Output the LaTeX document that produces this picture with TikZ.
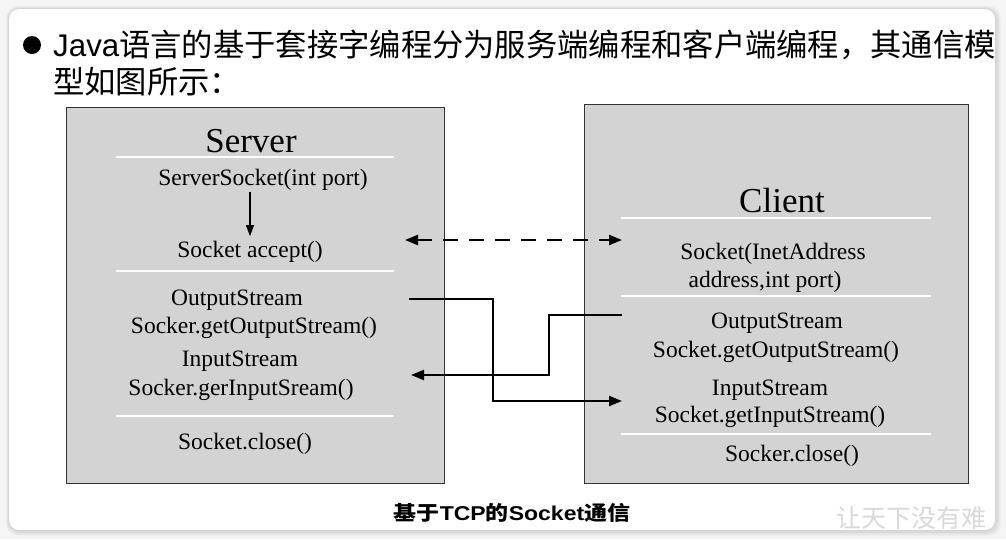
\documentclass[tikz,border=0pt]{standalone}
\usepackage{fontspec}
\setmainfont{Liberation Serif}
\newfontfamily\cjk{Noto Sans CJK SC}
\newfontfamily\arial{Liberation Sans}
\usetikzlibrary{arrows.meta}
\definecolor{boxgray}{HTML}{D3D3D3}
\definecolor{edgegray}{HTML}{333333}
\begin{document}
\begin{tikzpicture}[x=1pt,y=-1pt,
  panelbox/.style={draw=edgegray, line width=1.3pt, fill=boxgray, anchor=north west, inner sep=0pt},
  sep/.style={draw=white, line width=1.2pt},
  lbl/.style={font=\fontsize{23.5}{25}\selectfont, inner sep=0pt, yshift=-2pt},
  ttl/.style={font=\fontsize{35}{38}\selectfont, inner sep=0pt, yshift=-1pt},
  conn/.style={line width=2.2pt, -{Triangle[length=13pt,width=10pt]}},
  dconn/.style={line width=2.2pt, dash pattern=on 15pt off 11pt, {Triangle[length=13pt,width=10pt]}-{Triangle[length=13pt,width=10pt]}},
  small/.style={line width=1.3pt, -{Triangle[length=11pt,width=8pt]}},
]
\useasboundingbox (0,0) rectangle (1006,539);
\fill[gray!8] (0,0) rectangle (1006,539);
\foreach \i in {1,...,6}
  \fill[black, opacity=0.025, rounded corners=12pt] (9-\i/2,9-\i/2) rectangle (995+\i,530+\i);
\fill[white, rounded corners=10pt] (9,9) rectangle (995,530);

% title
\node[circle, fill=black, minimum size=18pt, inner sep=0pt] (bul) at (32,45) {};
\node[anchor=west, inner sep=0pt, font=\fontsize{31.3}{36}\selectfont] (t1) at (53,45)
  {{\arial Java}{\cjk 语言的基于套接字编程分为服务端编程和客户端编程，其通信模}};
\node[anchor=west, inner sep=0pt, font=\fontsize{31.3}{36}\selectfont] (t2) at (53,82)
  {{\cjk 型如图所示：}};

% boxes
\node[panelbox, minimum width=378pt, minimum height=376pt] (srv) at (66,107) {};
\node[panelbox, minimum width=384pt, minimum height=379pt] (cli) at (584,104) {};

% server content
\node[ttl] (stitle) at (251,140) {Server};
\draw[sep] (116,157) -- (394,157);
\node[lbl] (ss) at (263,178) {ServerSocket(int port)};
\node[lbl] (acc) at (250,250) {Socket accept()};
\draw[sep] (116,271) -- (394,271);
\node[lbl] (sos1) at (237,298) {OutputStream};
\node[lbl] (sos2) at (254,326) {Socker.getOutputStream()};
\node[lbl] (sis1) at (240,359) {InputStream};
\node[lbl] (sis2) at (241,388) {Socker.gerInputSream()};
\draw[sep] (116,416) -- (394,416);
\node[lbl] (scl) at (245,442) {Socket.close()};
\draw[small, shorten >=5pt, shorten <=1pt] (ss.south -| acc.north) -- (acc.north);

% client content
\node[ttl] (ctitle) at (782,200) {Client};
\draw[sep] (621,218) -- (931,218);
\node[lbl] (cs1) at (773,252) {Socket(InetAddress};
\node[lbl] (cs2) at (765,280) {address,int port)};
\draw[sep] (621,296) -- (931,296);
\node[lbl] (cos1) at (777,321) {OutputStream};
\node[lbl] (cos2) at (776,350) {Socket.getOutputStream()};
\node[lbl] (cis1) at (770,388) {InputStream};
\node[lbl] (cis2) at (770,415) {Socket.getInputStream()};
\draw[sep] (621,434) -- (931,434);
\node[lbl] (ccl) at (792,454) {Socker.close()};

% connectors
\coordinate (d1) at (405,240);
\coordinate (d2) at (622,240);
\draw[dconn] (d1) -- (d2);

\coordinate (o1) at (409,299);
\coordinate (b1) at (493,0);
\coordinate (i1) at (622,401);
\draw[conn] (o1) -- (o1 -| b1) |- (i1);

\coordinate (o2) at (622,315);
\coordinate (b2) at (549,0);
\coordinate (i2) at (411,375);
\draw[conn] (o2) -- (o2 -| b2) |- (i2);

% caption
\node[inner sep=0pt, font=\fontsize{20}{24}\selectfont\bfseries, xscale=1.15] (cap) at (512,513)
  {{\cjk 基于}{\arial TCP}{\cjk 的}{\arial Socket}{\cjk 通信}};

% watermark
\node[inner sep=0pt, text=gray!30, font=\fontsize{25}{26}\selectfont] (wm) at (911,518) {{\cjk 让天下没有难}};
\end{tikzpicture}
\end{document}
